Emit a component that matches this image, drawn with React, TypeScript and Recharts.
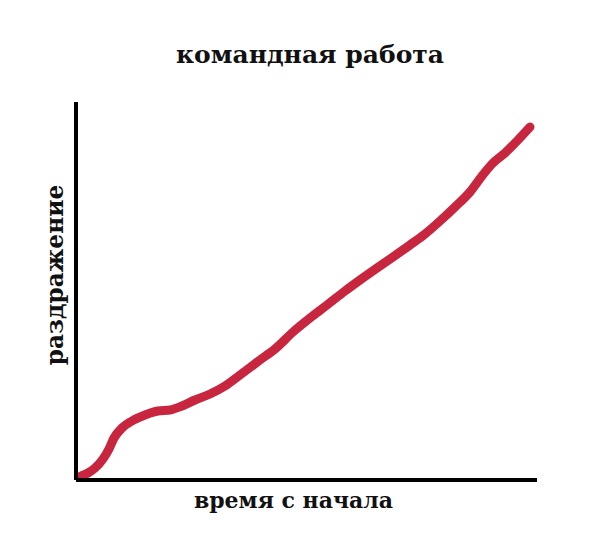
import { LineChart, Line, XAxis, YAxis, Label } from 'recharts'

// hand-drawn meme chart: irritation over time in teamwork
const elapsed = [5, 12, 19, 27, 33, 38, 46, 56, 69, 82, 94, 106, 119, 134, 149, 164, 184, 199, 217, 234, 251, 269, 284, 301, 317, 334, 349, 364, 379, 394, 406, 416, 429, 442, 454]
const irritation = [4, 7, 12, 21, 31, 42, 52, 59, 65, 69, 70, 74, 80, 86, 94, 105, 120, 131, 148, 162, 175, 189, 200, 212, 223, 235, 246, 259, 273, 288, 304, 316, 327, 340, 353]

const TITLE = 'командная работа'
const X_LABEL = 'время с начала'
const Y_LABEL = 'раздражение'

const FONT = '"DejaVu Serif", serif'

const chartData = elapsed.map((t, i) => ({ t, v: irritation[i] }))

const XLabel = ({ viewBox }: any) => {
  const cx = viewBox.x + viewBox.width / 2 - 13
  const cy = viewBox.y + 28
  return (
    <text x={cx} y={cy} textAnchor="middle" fontFamily={FONT} fontWeight="bold" fontSize={22} fill="#111">
      {X_LABEL}
    </text>
  )
}

const YLabel = ({ viewBox }: any) => {
  const cx = viewBox.x + viewBox.width - 13
  const cy = viewBox.y + viewBox.height / 2 - 16
  return (
    <text x={cx} y={cy} transform={`rotate(-90 ${cx} ${cy})`} textAnchor="middle" fontFamily={FONT} fontWeight="bold" fontSize={23.3} fill="#111">
      {Y_LABEL}
    </text>
  )
}

export default function App() {
  return (
    <div style={{ position: 'absolute', left: 0, top: 0, width: 600, height: 559, background: '#fff' }}>
      <div style={{ position: 'absolute', left: 0, top: 42, width: 620, textAlign: 'center', fontFamily: FONT, fontWeight: 'bold', fontSize: 25, lineHeight: '25px', color: '#111' }}>
        {TITLE}
      </div>
      <LineChart width={600} height={559} data={chartData} margin={{ top: 102, right: 63, bottom: 0, left: 0 }}>
        <XAxis dataKey="t" type="number" domain={[0, 461]} tick={false} tickLine={false} height={79} axisLine={{ stroke: '#000', strokeWidth: 4 }}>
          <Label content={<XLabel />} />
        </XAxis>
        <YAxis type="number" domain={[0, 378]} tick={false} tickLine={false} width={76} axisLine={{ stroke: '#000', strokeWidth: 4 }}>
          <Label content={<YLabel />} />
        </YAxis>
        <Line dataKey="v" type="monotone" stroke="#c8263e" strokeWidth={9} strokeLinecap="round" strokeLinejoin="round" dot={false} isAnimationActive={false} />
      </LineChart>
    </div>
  )
}
